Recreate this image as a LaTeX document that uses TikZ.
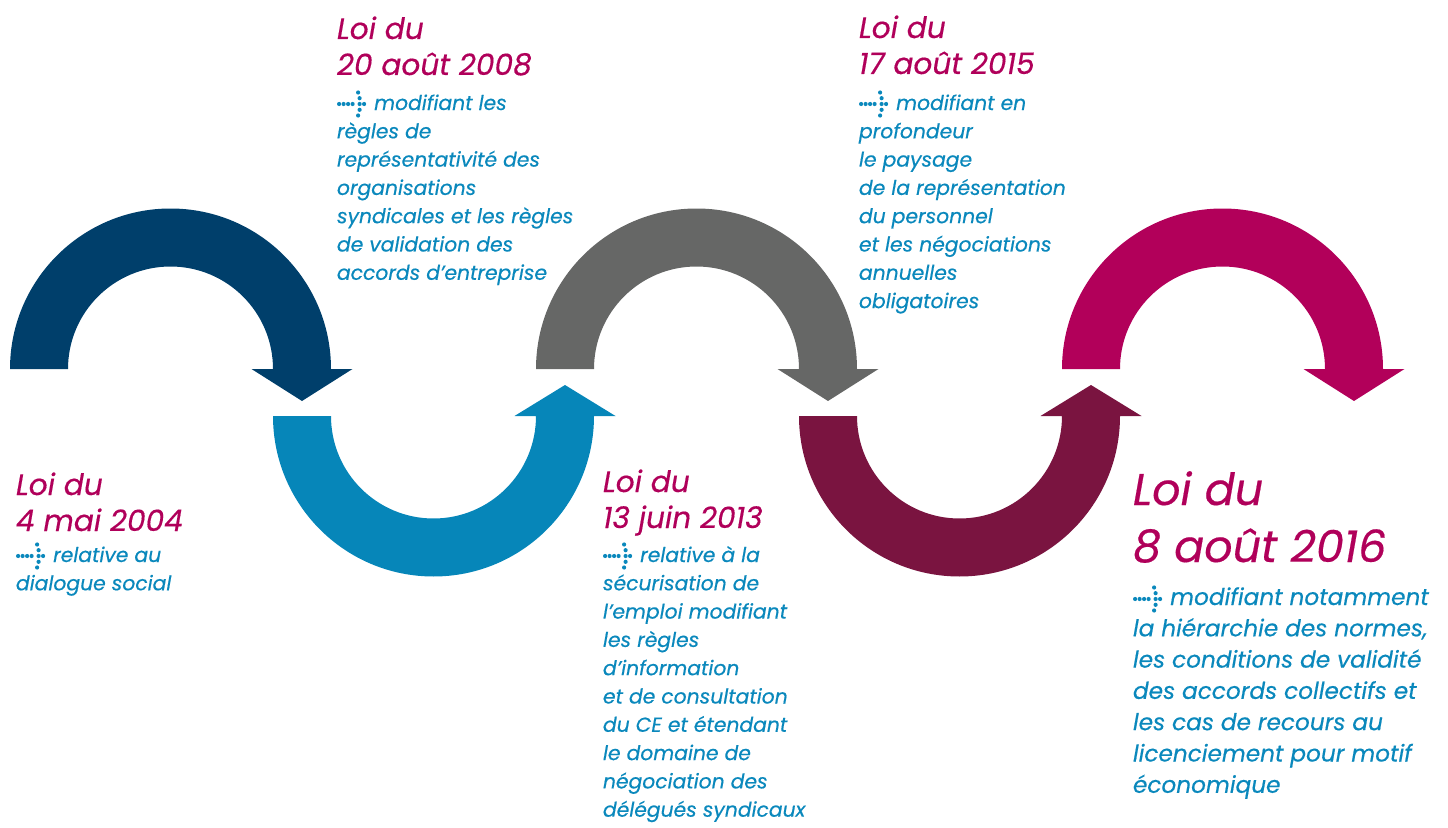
\documentclass[tikz,border=0pt]{standalone}
\usepackage{fontspec}
\setmainfont{Poppins}[ItalicFeatures={FakeBold=0.4}]
\usetikzlibrary{calc}

\definecolor{navy}{RGB}{0,63,107}
\definecolor{skyblue}{RGB}{6,134,185}
\definecolor{slate}{RGB}{102,103,102}
\definecolor{wine}{RGB}{122,20,64}
\definecolor{rose}{RGB}{178,0,90}
\definecolor{lawrose}{RGB}{176,0,90}
\definecolor{lawblue}{RGB}{10,136,188}

\newcommand{\titlefont}{\fontsize{14.8}{18}\selectfont\itshape}
\newcommand{\bodyfont}{\fontsize{10.15}{14.15}\selectfont\itshape}
\newcommand{\bigtitlefont}{\fontsize{22.2}{28.5}\selectfont\itshape}
\newcommand{\bigbodyfont}{\fontsize{11.6}{15.65}\selectfont\itshape}
\newcommand{\dotarrow}{\tikz[x=0.5pt,y=0.5pt,baseline={(0,-6)}]{%
  \foreach \dx/\dy in {0/0,4.5/0,9/0,13.5/0,19/11.5,20.5/5.8,25/0,20.5/0,20.5/-5.8,19/-11.5}
    \fill[lawblue] (\dx,\dy) circle[radius=2.1];}\hspace{4pt}}

\tikzset{
  lawtitle/.style={anchor=base west, text=lawrose},
  lawtext/.style={anchor=base west, text=lawblue}
}

\begin{document}
\begin{tikzpicture}[x=0.5pt,y=0.5pt,inner sep=0pt,outer sep=0pt]
    \useasboundingbox (0,0) rectangle (1448,827);

    % arcs above
    \foreach \cx/\col in {170.5/navy, 696.5/slate, 1222.5/rose}
      \fill[\col] (\cx-160.5,458) arc[start angle=180,end angle=0,radius=160.5]
        -- ++(21.5,0) -- (\cx+131.5,426) -- (\cx+81,458) -- (\cx+102.5,458)
        arc[start angle=0,end angle=180,radius=102.5] -- cycle;

    % arcs below
    \foreach \cx/\col in {433.5/skyblue, 959.5/wine}
      \fill[\col] (\cx-160.5,411) arc[start angle=180,end angle=360,radius=160.5]
        -- ++(21.5,0) -- (\cx+131.5,442) -- (\cx+81,411) -- (\cx+102.5,411)
        arc[start angle=360,end angle=180,radius=102.5] -- cycle;

    % loi 2004
    \node[lawtitle] (t2004) at (16,332)
    {\titlefont\begin{tabular}[t]{@{}l@{}}Loi du\\ 4 mai 2004\end{tabular}};
    \node[lawtext] (d2004) at ($(t2004.base west)+(0,-67)$)
    {\bodyfont\begin{tabular}[t]{@{}l@{}}
    \dotarrow relative au\\
    dialogue social
    \end{tabular}};

    % loi 2008
    \node[lawtitle] (t2008) at (337,788)
    {\titlefont\begin{tabular}[t]{@{}l@{}}Loi du\\ 20 août 2008\end{tabular}};
    \node[lawtext] (d2008) at ($(t2008.base west)+(0,-71)$)
    {\bodyfont\begin{tabular}[t]{@{}l@{}}
    \dotarrow modifiant les\\
    règles de\\
    représentativité des\\
    organisations\\
    syndicales et les règles\\
    de validation des\\
    accords d’entreprise
    \end{tabular}};

    % loi 2013
    \node[lawtitle] (t2013) at (603,335)
    {\titlefont\begin{tabular}[t]{@{}l@{}}Loi du\\ 13 juin 2013\end{tabular}};
    \node[lawtext] (d2013) at ($(t2013.base west)+(0,-70)$)
    {\bodyfont\begin{tabular}[t]{@{}l@{}}
    \dotarrow relative à la\\
    sécurisation de\\
    l’emploi modifiant\\
    les règles\\
    d’information\\
    et de consultation\\
    du CE et étendant\\
    le domaine de\\
    négociation des\\
    délégués syndicaux
    \end{tabular}};

    % loi 2015
    \node[lawtitle] (t2015) at (859,789)
    {\titlefont\begin{tabular}[t]{@{}l@{}}Loi du\\ 17 août 2015\end{tabular}};
    \node[lawtext] (d2015) at ($(t2015.base west)+(0,-72)$)
    {\bodyfont\begin{tabular}[t]{@{}l@{}}
    \dotarrow modifiant en\\
    profondeur\\
    le paysage\\
    de la représentation\\
    du personnel\\
    et les négociations\\
    annuelles\\
    obligatoires
    \end{tabular}};

    % loi 2016
    \node[lawtitle] (t2016) at (1133,322)
    {\bigtitlefont\begin{tabular}[t]{@{}l@{}}Loi du\\ 8 août 2016\end{tabular}};
    \node[lawtext] (d2016) at ($(t2016.base west)+(0,-100)$)
    {\bigbodyfont\begin{tabular}[t]{@{}l@{}}
    \dotarrow modifiant notamment\\
    la hiérarchie des normes,\\
    les conditions de validité\\
    des accords collectifs et\\
    les cas de recours au\\
    licenciement pour motif\\
    économique
    \end{tabular}};

\end{tikzpicture}
\end{document}
